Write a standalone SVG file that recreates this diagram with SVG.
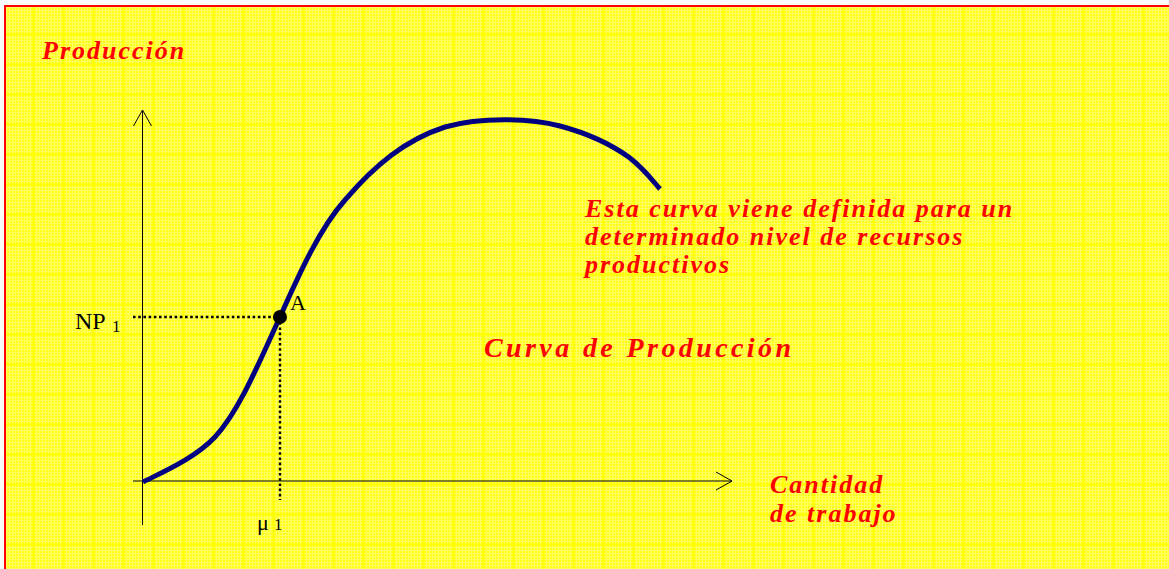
<svg xmlns="http://www.w3.org/2000/svg" width="1169" height="569" viewBox="0 0 1169 569">
<defs>
<pattern id="grid" x="5" y="6" width="30" height="30" patternUnits="userSpaceOnUse">
<rect width="30" height="30" fill="#FFFF1A"/>
<path d="M1.5,0V30M4.5,0V30M7.5,0V30M10.5,0V30M13.5,0V30M16.5,0V30M19.5,0V30M22.5,0V30M25.5,0V30M0,1.5H30M0,4.5H30M0,7.5H30M0,10.5H30M0,13.5H30M0,16.5H30M0,19.5H30M0,22.5H30M0,25.5H30" stroke="#FFFF9A" stroke-width="1" opacity="0.55"/>
<path d="M28.5,0V30M0,28.5H30" stroke="#FFFF00" stroke-width="2"/>
</pattern>
<marker id="arr" viewBox="0 0 20 20" refX="18" refY="10" markerWidth="20" markerHeight="20" markerUnits="userSpaceOnUse" orient="auto">
<path d="M2,1 L18,10 L2,19" fill="none" stroke="#000" stroke-width="1"/>
</marker>
<style>
.red{font-family:"Liberation Serif",serif;font-weight:bold;font-style:italic;fill:#FF0000;font-size:26px;letter-spacing:2px}
.blk{font-family:"Liberation Serif",serif;fill:#000}
.axis{stroke:#000;stroke-width:1;fill:none}
.dot{stroke:#000;stroke-width:2.4;stroke-dasharray:2.6,2.6;fill:none}
</style>
</defs>
<rect width="1169" height="569" fill="#FFFFFF"/>
<rect x="5" y="6" width="1170" height="570" fill="url(#grid)" stroke="#FF0000" stroke-width="2"/>
<g id="labels">
<text class="red" x="42" y="59">Producción</text>
<text class="red" x="585" y="217">Esta curva viene definida para un</text>
<text class="red" x="585" y="245">determinado nivel de recursos</text>
<text class="red" x="585" y="273">productivos</text>
<text class="red" x="484" y="357" style="font-size:28px;letter-spacing:3.4px">Curva de Producción</text>
<text class="red" x="770" y="493">Cantidad</text>
<text class="red" x="770" y="522">de trabajo</text>
</g>
<g id="connectors">
<line class="axis" x1="142.5" y1="525" x2="142.5" y2="110" marker-end="url(#arr)"/>
<line class="axis" x1="133" y1="481" x2="732" y2="481" marker-end="url(#arr)"/>
<line class="dot" x1="133" y1="317" x2="280" y2="317"/>
<line class="dot" x1="280" y1="317" x2="280" y2="500"/>
<path d="M143,482 C165,471 195,458 215,437 C240,410 260,360 280,317 C300,272 320,228 345,200 C375,165 405,140 445,127 C480,117 530,118 560,126 C590,134 615,147 630,158 C645,170 652,180 660,189" fill="none" stroke="#000080" stroke-width="5"/>
</g>
<g id="pointA">
<circle cx="280" cy="317" r="7" fill="#000"/>
<text class="blk" x="290" y="310" font-size="22">A</text>
</g>
<g id="np1">
<text class="blk" x="75" y="329" font-size="24">NP<tspan x="112" y="332" font-size="17">1</tspan></text>
</g>
<g id="mu1">
<text class="blk" x="257" y="530" font-size="22">μ<tspan x="274" font-size="17">1</tspan></text>
</g>
</svg>
